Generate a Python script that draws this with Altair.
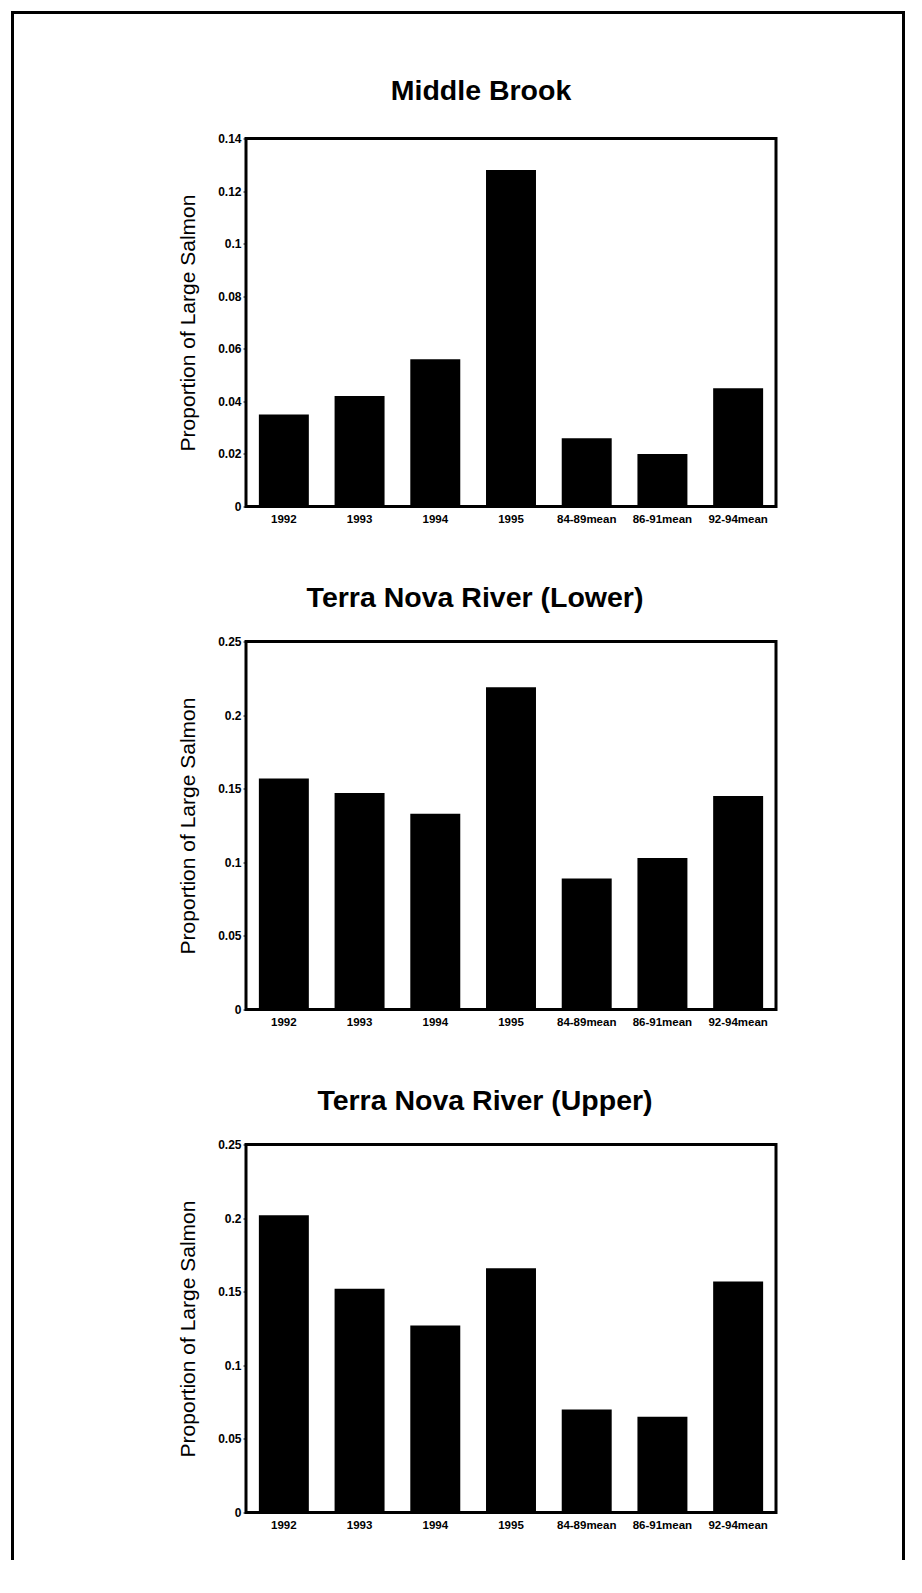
import altair as alt
import pandas as pd

categories = ["1992", "1993", "1994", "1995", "84-89mean", "86-91mean", "92-94mean"]
middle_brook = [0.035, 0.042, 0.056, 0.128, 0.026, 0.020, 0.045]
terra_nova_lower = [0.157, 0.147, 0.133, 0.219, 0.089, 0.103, 0.145]
terra_nova_upper = [0.202, 0.152, 0.127, 0.166, 0.070, 0.065, 0.157]

titles = ["Middle Brook", "Terra Nova River (Lower)", "Terra Nova River (Upper)"]
ticks_mb = [0, 0.02, 0.04, 0.06, 0.08, 0.1, 0.12, 0.14]
ticks_tn = [0, 0.05, 0.1, 0.15, 0.2, 0.25]

W, H = 530, 368
FONT = "Liberation Sans"


def panel(values, ymax, ticks):
    df = pd.DataFrame({"cat": categories, "val": values})
    return alt.Chart(df).mark_bar(color="black").encode(
        x=alt.X(
            "cat:N",
            sort=categories,
            scale=alt.Scale(paddingInner=0.34, paddingOuter=0.17),
            axis=alt.Axis(
                title=None, labelAngle=0, ticks=False, domain=False,
                labelPadding=7, labelFontSize=11.5, labelFontWeight="bold",
                labelFont=FONT, labelColor="black",
            ),
        ),
        y=alt.Y(
            "val:Q",
            scale=alt.Scale(domain=[0, ymax], nice=False),
            axis=alt.Axis(
                values=ticks, format="~g", grid=False, domain=False,
                tickSize=3, tickColor="black", labelPadding=2,
                labelFontSize=12, labelFontWeight="bold", labelFont=FONT,
                labelColor="black",
                title="Proportion of Large Salmon", titleFont=FONT,
                titleFontSize=21, titleFontWeight="normal", titleColor="black",
                titlePadding=19.5,
            ),
        ),
    ).properties(width=W, height=H)


def title_params(text, offset, dx):
    return alt.TitleParams(
        text=text, font=FONT, fontSize=28.5, fontWeight="bold",
        color="black", offset=offset, dx=dx,
    )


# page frame (decoration), positioned relative to the first panel's plot area
frame_df = pd.DataFrame({"k": [0]})
frame_style = dict(color="black", strokeWidth=3, strokeCap="square")
left_line = alt.Chart(frame_df).mark_rule(**frame_style).encode(
    x=alt.value(-233.5), y=alt.value(-126), y2=alt.value(1420)
)
top_line = alt.Chart(frame_df).mark_rule(**frame_style).encode(
    x=alt.value(-233.5), x2=alt.value(657.5), y=alt.value(-126)
)
right_line = alt.Chart(frame_df).mark_rule(**frame_style).encode(
    x=alt.value(657.5), y=alt.value(-126), y2=alt.value(1420)
)
title1 = alt.Chart(pd.DataFrame({"t": [titles[0]]})).mark_text(
    font=FONT, fontSize=28.5, fontWeight="bold", color="black",
    align="center", baseline="middle",
).encode(text="t:N", x=alt.value(235), y=alt.value(-48))

p1 = alt.layer(panel(middle_brook, 0.14, ticks_mb), title1,
               left_line, top_line, right_line)
p2 = panel(terra_nova_lower, 0.25, ticks_tn).properties(
    title=title_params(titles[1], 23, -36))
p3 = panel(terra_nova_upper, 0.25, ticks_tn).properties(
    title=title_params(titles[2], 23, -26))

chart = alt.vconcat(p1, p2, p3, spacing=135, bounds="flush").properties(
    padding={"left": 0, "top": 0.5, "right": 0, "bottom": 0},
    background="white",
).configure_view(stroke="black", strokeWidth=3)

chart.save("out.html", embed_options={"renderer": "svg", "actions": False})
